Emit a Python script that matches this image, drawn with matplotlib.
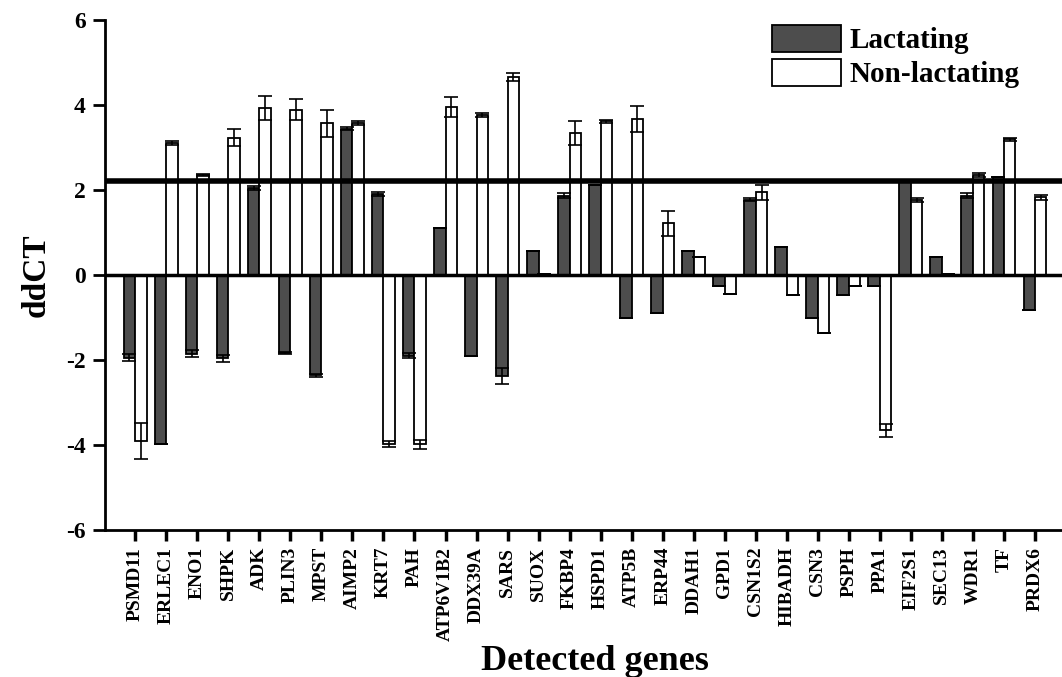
import numpy as np
import matplotlib.pyplot as plt

plt.rcParams['font.family'] = ['Liberation Serif', 'DejaVu Serif']
plt.rcParams['font.weight'] = 'bold'

genes = ['PSMD11', 'ERLEC1', 'ENO1', 'SHPK', 'ADK', 'PLIN3', 'MPST', 'AIMP2', 'KRT7', 'PAH',
         'ATP6V1B2', 'DDX39A', 'SARS', 'SUOX', 'FKBP4', 'HSPD1', 'ATP5B', 'ERP44', 'DDAH1', 'GPD1',
         'CSN1S2', 'HIBADH', 'CSN3', 'PSPH', 'PPA1', 'EIF2S1', 'SEC13', 'WDR1', 'TF', 'PRDX6']

# ddCT lactantes / no lactantes
lact = [-1.94, -3.98, -1.85, -1.96, 2.06, -1.83, -2.36, 3.45, 1.92, -1.90,
        1.12, -1.91, -2.37, 0.57, 1.87, 2.12, -1.01, -0.90, 0.56, -0.25,
        1.78, 0.67, -1.01, -0.46, -0.25, 2.19, 0.44, 1.87, 2.30, -0.82]
lact_err = [0.08, 0.0, 0.08, 0.08, 0.05, 0.02, 0.03, 0.04, 0.05, 0.06,
            0.0, 0.0, 0.18, 0.0, 0.06, 0.0, 0.0, 0.0, 0.0, 0.0,
            0.03, 0.0, 0.0, 0.0, 0.0, 0.0, 0.0, 0.06, 0.0, 0.0]

non = [-3.91, 3.11, 2.36, 3.24, 3.94, 3.90, 3.58, 3.58, -3.98, -3.98,
       3.96, 3.77, 4.67, 0.03, 3.35, 3.62, 3.68, 1.22, 0.44, -0.44,
       1.95, -0.46, -1.35, -0.25, -3.65, 1.77, 0.04, 2.36, 3.20, 1.83]
non_err = [0.42, 0.05, 0.03, 0.19, 0.28, 0.24, 0.32, 0.04, 0.07, 0.10,
           0.23, 0.04, 0.10, 0.0, 0.28, 0.04, 0.31, 0.30, 0.0, 0.0,
           0.17, 0.0, 0.0, 0.0, 0.15, 0.05, 0.0, 0.04, 0.04, 0.05]

threshold = 2.22
yticks = [-6, -4, -2, 0, 2, 4, 6]

x = np.arange(len(genes))
w = 0.37

fig = plt.figure(figsize=(10.62, 6.77), dpi=100)
ax = fig.add_axes([0.099, 0.217, 0.901, 0.753])

ax.bar(x - w / 2, lact, w, color='#4d4d4d', edgecolor='black', linewidth=1.3, label='Lactating', zorder=2)
ax.bar(x + w / 2, non, w, color='white', edgecolor='black', linewidth=1.3, label='Non-lactating', zorder=2)
ax.errorbar(x - w / 2, lact, yerr=lact_err, fmt='none', ecolor='black', elinewidth=1.2,
            capsize=5, capthick=1.2, zorder=3)
ax.errorbar(x + w / 2, non, yerr=non_err, fmt='none', ecolor='black', elinewidth=1.2,
            capsize=5, capthick=1.2, zorder=3)

ax.axhline(0, color='black', linewidth=2.5, zorder=4)
ax.axhline(threshold, color='black', linewidth=4, zorder=4)

ax.set_xlim(-0.97, 29.87)
ax.set_ylim(-6, 6)
ax.set_yticks(yticks)
ax.set_yticklabels([str(v) for v in yticks], fontsize=17, fontweight='bold')
ax.set_xticks(x)
ax.set_xticklabels(genes, rotation=90, fontsize=14, fontweight='bold')

for s in ['top', 'right']:
    ax.spines[s].set_visible(False)
for s in ['left', 'bottom']:
    ax.spines[s].set_linewidth(2)
ax.tick_params(axis='y', direction='out', length=9, width=2, pad=5)
ax.tick_params(axis='x', direction='out', length=8, width=2.5, pad=4)

ax.set_ylabel('ddCT', fontsize=24, fontweight='bold', labelpad=10)
ax.set_xlabel('Detected genes', fontsize=26, fontweight='bold')
ax.xaxis.set_label_coords(0.512, -0.225)

ax.legend(loc='upper left', bbox_to_anchor=(0.697, 0.991), frameon=False, fontsize=21,
          handlelength=2.36, handleheight=1.03, labelspacing=0.17, handletextpad=0.3,
          borderaxespad=0, borderpad=0)

plt.savefig('out.png', dpi=100)
